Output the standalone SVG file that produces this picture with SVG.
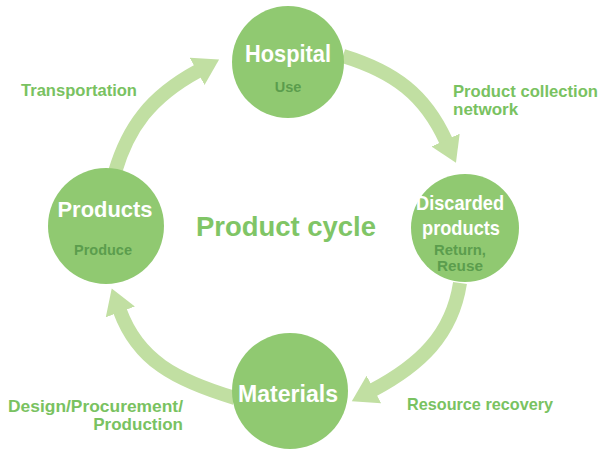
<svg xmlns="http://www.w3.org/2000/svg" width="600" height="450" viewBox="0 0 600 450">
<style>
.arrow{fill:none;stroke:#c1dfa2;stroke-width:14;marker-end:url(#head)}
.node{fill:#90c971}
.title{font-family:"Liberation Sans",Arial,sans-serif;font-weight:bold;fill:#ffffff;text-anchor:middle}
.sub{font-family:"Liberation Sans",Arial,sans-serif;font-weight:bold;fill:#5b9d4d;text-anchor:middle;font-size:14.5px}
.lbl{font-family:"Liberation Sans",Arial,sans-serif;font-weight:bold;fill:#79c261;font-size:17px}
</style>
<defs>
<marker id="head" markerUnits="userSpaceOnUse" markerWidth="26" markerHeight="32" refX="1" refY="15.5" orient="auto">
<path d="M0,0 L25,15.5 L0,31 z" fill="#c1dfa2"/>
</marker>
</defs>
<g id="connectors">
<path class="arrow" d="M115,172 C128,128 150,97 198,71"/>
<path class="arrow" d="M343,56 C395,72 425,95 446,141"/>
<path class="arrow" d="M460,283 C452,335 420,365 373,390"/>
<path class="arrow" d="M235,398 C175,380 138,360 120,311"/>
</g>
<g id="hospital">
<circle class="node" cx="288" cy="62" r="56"/>
<text class="title" x="288" y="62" font-size="23" textLength="86" lengthAdjust="spacingAndGlyphs">Hospital</text>
<text class="sub" x="288" y="92">Use</text>
</g>
<g id="discarded">
<circle class="node" cx="465" cy="228" r="54"/>
<text class="title" x="460" y="210" font-size="21" textLength="88" lengthAdjust="spacingAndGlyphs">Discarded</text>
<text class="title" x="461" y="235" font-size="21" textLength="78" lengthAdjust="spacingAndGlyphs">products</text>
<text class="sub" x="460" y="255" textLength="52" lengthAdjust="spacingAndGlyphs">Return,</text>
<text class="sub" x="460" y="271" textLength="46" lengthAdjust="spacingAndGlyphs">Reuse</text>
</g>
<g id="materials">
<circle class="node" cx="290" cy="391" r="58"/>
<text class="title" x="288" y="402" font-size="23" textLength="100" lengthAdjust="spacingAndGlyphs">Materials</text>
</g>
<g id="products">
<circle class="node" cx="106" cy="226" r="58"/>
<text class="title" x="105" y="217" font-size="22" textLength="95" lengthAdjust="spacingAndGlyphs">Products</text>
<text class="sub" x="103" y="255" font-size="15.5">Produce</text>
</g>
<g id="center">
<text x="286" y="236" font-family="Liberation Sans, Arial, sans-serif" font-weight="bold" font-size="28" fill="#80c566" text-anchor="middle" textLength="180" lengthAdjust="spacingAndGlyphs">Product cycle</text>
</g>
<g id="labels">
<text class="lbl" x="21" y="96" textLength="116" lengthAdjust="spacingAndGlyphs">Transportation</text>
<text class="lbl" x="453" y="97" textLength="145" lengthAdjust="spacingAndGlyphs">Product collection</text>
<text class="lbl" x="453" y="115">network</text>
<text class="lbl" x="407" y="410" textLength="146" lengthAdjust="spacingAndGlyphs">Resource recovery</text>
<text class="lbl" x="183" y="412" text-anchor="end" textLength="175" lengthAdjust="spacingAndGlyphs">Design/Procurement/</text>
<text class="lbl" x="183" y="430" text-anchor="end">Production</text>
</g>
</svg>
